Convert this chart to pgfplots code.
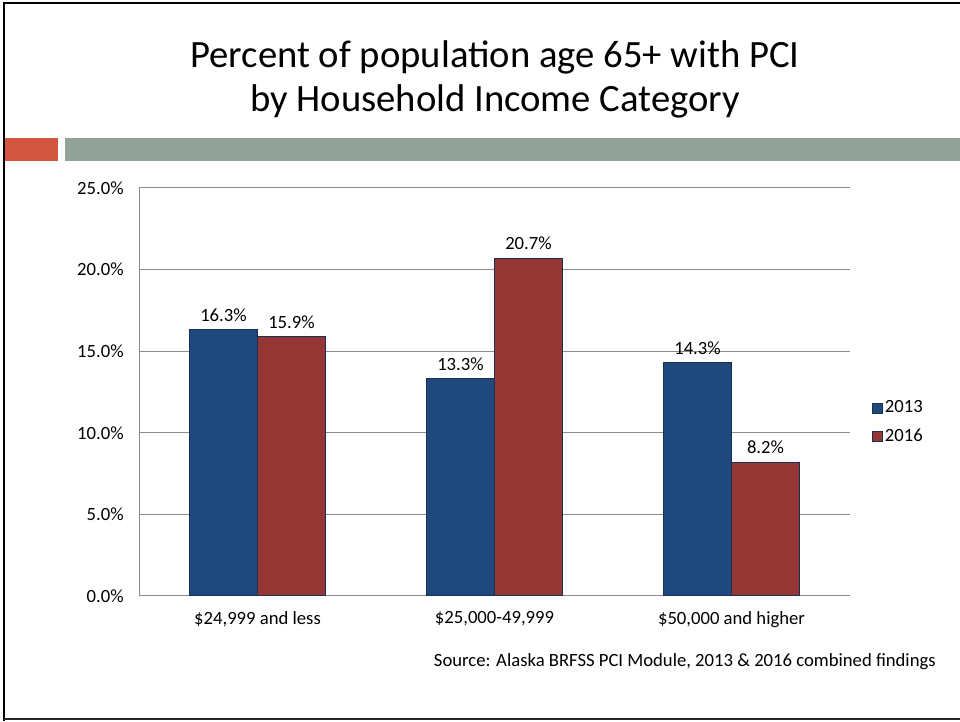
\documentclass[border=0pt]{standalone}
\usepackage{pgfplots}
\pgfplotsset{compat=1.18}
\usepackage{fontspec}
\setmainfont{Carlito}
\definecolor{barblue}{HTML}{1F497D}
\definecolor{barred}{HTML}{953735}
\definecolor{baredge}{HTML}{1B2F55}
\definecolor{gridgrey}{HTML}{8C8C8C}
\definecolor{bandorange}{HTML}{D25641}
\definecolor{bandgrey}{HTML}{93A299}
\begin{document}
\begin{tikzpicture}
\begin{scope}[x=0.75pt,y=0.75pt]
\path[use as bounding box] (0,0) rectangle (960,721);
% slide frame
\draw[line width=2.2pt] (4,0) -- (4,718) -- (960,718);
\draw[line width=1.8pt,color=black!85] (4,2) -- (960,2);
% band
\fill[bandorange] (5,583) rectangle (58,560);
\fill[bandgrey] (65,583) rectangle (960,560);
% title
\node[anchor=base,font=\fontsize{29}{34}\selectfont] at (495,653) {Percent of population age 65+ with PCI};
\node[anchor=base,font=\fontsize{29}{34}\selectfont] at (495,609) {by Household Income Category};
% source
\node[anchor=base east,inner sep=0pt,font=\fontsize{14}{17}\selectfont] at (936,55) {Source: Alaska BRFSS PCI Module, 2013 \& 2016 combined findings};
\end{scope}
\begin{axis}[
  at={(104.25pt,93.75pt)}, anchor=south west,
  width=533.25pt, height=306pt, scale only axis,
  ybar=0pt, bar width=51pt,
  xmin=-0.5, xmax=2.5,
  ymin=0, ymax=25,
  xtick={0,1,2},
  xticklabels={{\$24,999 and less},{\$25,000-49,999},{\$50,000 and higher}},
  ytick={0,5,10,15,20,25},
  yticklabel={\pgfmathprintnumber[fixed,fixed zerofill,precision=1]{\tick}\%},
  /pgf/number format/assume math mode=true,
  axis x line*=bottom, axis y line*=left,
  axis line style={gridgrey,line width=0.75pt},
  ymajorgrids, grid style={gridgrey,line width=0.75pt},
  major tick length=0pt,
  tick label style={font=\fontsize{14}{16.8}\selectfont,black},
  yticklabel style={xshift=-8pt},
  xticklabel style={yshift=-8pt},
  nodes near coords={\pgfmathprintnumber[fixed,fixed zerofill,precision=1]{\pgfplotspointmeta}\%},
  nodes near coords style={font=\fontsize{14}{16.8}\selectfont,black,yshift=2.5pt},
  legend style={at={(1.03,0.426)},anchor=west,draw=none,fill=none,
    font=\fontsize{14}{16.8}\selectfont,row sep=6.5pt,inner sep=0pt},
  legend cell align=left,
  legend image code/.code={\draw[#1,line width=0.5pt] (0pt,-3.75pt) rectangle (7.5pt,3.75pt);},
]
\addplot[fill=barblue,draw=baredge,line width=0.75pt] coordinates {(0,16.3) (1,13.3) (2,14.3)};
\addplot[fill=barred,draw=baredge,line width=0.75pt] coordinates {(0,15.9) (1,20.7) (2,8.2)};
\legend{2013,2016}
\end{axis}
\end{tikzpicture}
\end{document}
